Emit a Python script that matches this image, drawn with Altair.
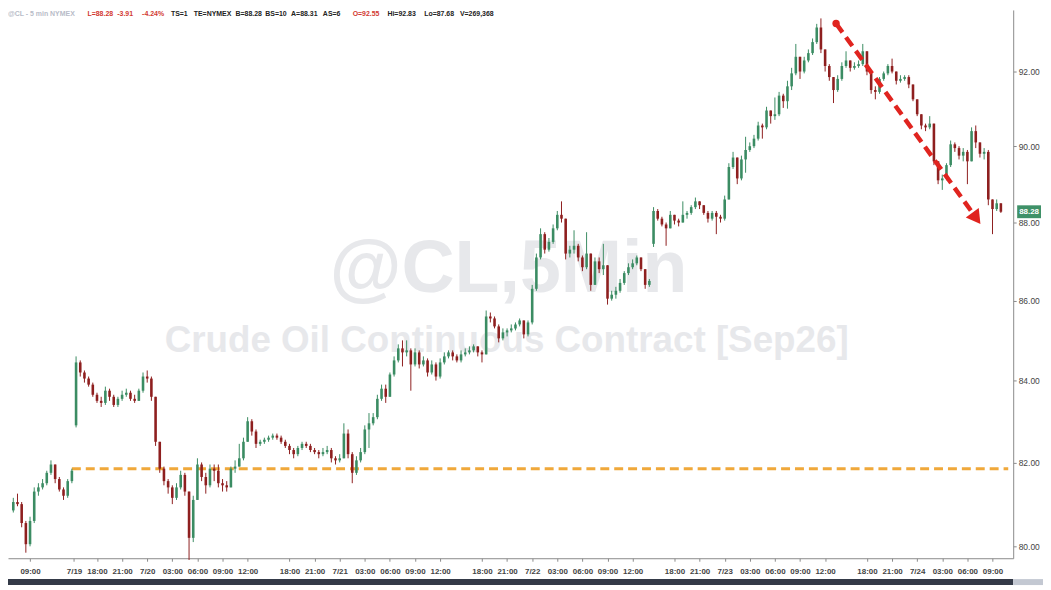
import altair as alt
import pandas as pd

# ---------------- data (30-minute candles) ----------------
closes = [
    81.05, 81.0, 80.55, 80.05, 80.6, 81.3, 81.4, 81.5, 81.75, 81.95,
    81.6, 81.35, 81.2, 81.55, 81.8, 84.45, 84.2, 84.05, 83.9, 83.65,
    83.5, 83.45, 83.75, 83.6, 83.4, 83.55, 83.65, 83.7, 83.55, 83.5,
    83.75, 84.1, 84.05, 83.6, 82.5, 81.85, 81.55, 81.4, 81.15, 81.4,
    81.7, 81.3, 80.2, 81.1, 81.95, 81.65, 81.45, 81.85, 81.8, 81.5,
    81.45, 81.4, 81.85, 81.9, 82.1, 82.5, 83.0, 82.75, 82.45, 82.5,
    82.55, 82.6, 82.65, 82.6, 82.5, 82.4, 82.3, 82.2, 82.35, 82.45,
    82.4, 82.3, 82.25, 82.2, 82.25, 82.3, 82.1, 82.05, 82.1, 82.7,
    82.2, 81.75, 82.05, 82.25, 82.8, 82.95, 83.1, 83.55, 83.8, 83.6,
    84.15, 84.5, 84.8, 84.7, 84.75, 84.4, 84.7, 84.4, 84.5, 84.2,
    84.4, 84.1, 84.45, 84.6, 84.7, 84.6, 84.5, 84.65, 84.7, 84.75,
    84.85, 84.7, 84.65, 85.6, 85.55, 85.35, 85.05, 85.2, 85.25, 85.3,
    85.4, 85.5, 85.15, 85.45, 86.3, 87.1, 87.7, 87.3, 87.5, 87.85,
    88.2, 88.1, 87.2, 87.3, 87.4, 87.1, 86.85, 87.2, 86.4, 87.0,
    86.8, 86.9, 86.05, 86.15, 86.25, 86.45, 86.7, 86.85, 86.95, 87.1,
    86.8, 86.4, 86.5, 88.3, 88.1, 87.95, 87.85, 88.2, 88.05, 88.0,
    88.2, 88.25, 88.4, 88.55, 88.45, 88.25, 88.1, 88.25, 88.15, 88.1,
    88.6, 89.45, 89.7, 89.15, 89.65, 89.9, 90.0, 90.2, 90.55, 90.5,
    90.95, 90.8, 90.85, 91.35, 91.2, 91.6, 91.95, 92.4, 92.0, 92.3,
    92.5, 92.8, 93.2, 92.6, 92.15, 91.85, 91.5, 91.8, 92.15, 92.3,
    92.1, 92.15, 92.2, 92.55, 92.0, 91.5, 91.45, 91.8, 91.95, 92.15,
    92.0, 91.75, 91.8, 91.85, 91.65, 91.25, 90.85, 90.55, 90.5, 90.6,
    89.6, 89.1, 89.15, 89.5, 90.05, 89.95, 89.75, 89.85, 89.6, 90.4,
    90.1, 89.8, 89.85, 88.6, 88.35, 88.5, 88.28,
]
highs = [
    81.15, 81.25, 81.05, 80.6, 80.7, 81.4, 81.5, 81.6, 81.8, 82.05,
    81.95, 81.65, 81.4, 81.6, 81.85, 84.6, 84.5, 84.25, 84.1, 83.95,
    83.7, 83.6, 83.85, 83.8, 83.65, 83.6, 83.75, 83.8, 83.75, 83.65,
    83.8, 84.2, 84.25, 84.1, 83.6, 82.5, 81.9, 81.6, 81.45, 81.5,
    81.8, 81.75, 81.3, 81.2, 82.1, 82.0, 81.75, 81.95, 81.95, 81.95,
    81.6, 81.55, 81.9, 82.05, 82.45, 82.6, 83.1, 83.05, 82.8, 82.55,
    82.6, 82.65, 82.7, 82.7, 82.65, 82.55, 82.45, 82.35, 82.4, 82.5,
    82.5, 82.45, 82.35, 82.3, 82.35, 82.4, 82.35, 82.15, 82.2, 82.95,
    82.8, 82.25, 82.15, 82.35, 82.9, 83.2, 83.2, 83.65, 83.9, 83.9,
    84.2, 84.6, 84.9, 85.0, 85.0, 84.8, 84.8, 84.75, 84.6, 84.55,
    84.5, 84.45, 84.55, 84.7, 84.75, 84.75, 84.65, 84.75, 84.8, 84.85,
    84.9, 84.85, 84.75, 85.75, 85.7, 85.6, 85.4, 85.3, 85.3, 85.4,
    85.45, 85.55, 85.5, 85.5, 86.4, 87.2, 87.85, 87.75, 87.6, 87.95,
    88.3, 88.55, 88.1, 87.4, 87.8, 87.45, 87.15, 87.75, 87.2, 87.1,
    87.1, 87.45, 86.9, 86.25, 86.35, 86.55, 86.75, 86.95, 87.05, 87.15,
    87.1, 86.8, 86.55, 88.4, 88.35, 88.15, 88.0, 88.3, 88.2, 88.1,
    88.55, 88.3, 88.45, 88.65, 88.55, 88.45, 88.3, 88.3, 88.3, 88.2,
    88.7, 89.55, 89.85, 89.7, 89.75, 90.25, 90.1, 90.3, 90.65, 90.6,
    91.05, 90.95, 91.3, 91.45, 91.4, 91.75, 92.1, 92.75, 92.4, 92.4,
    92.6, 92.9, 93.3, 93.45, 92.6, 92.2, 91.85, 91.9, 92.25, 92.55,
    92.3, 92.25, 92.3, 92.75, 92.55, 92.0, 91.6, 91.85, 92.0, 92.2,
    92.35, 92.0, 91.9, 91.9, 91.9, 91.65, 91.25, 90.85, 90.6, 90.8,
    90.6, 89.6, 89.25, 89.55, 90.15, 90.1, 90.0, 89.95, 89.9, 90.5,
    90.55, 90.1, 89.95, 89.9, 88.6, 88.6, 88.5,
]
lows = [
    80.8, 80.95, 80.45, 79.85, 80.0, 80.55, 81.2, 81.35, 81.45, 81.7,
    81.5, 81.3, 81.1, 81.15, 81.5, 82.85, 84.1, 83.95, 83.85, 83.6,
    83.45, 83.35, 83.4, 83.5, 83.35, 83.35, 83.5, 83.6, 83.5, 83.45,
    83.5, 83.7, 83.95, 83.5, 82.4, 81.75, 81.45, 81.25, 81.0, 81.1,
    81.35, 81.2, 79.68, 80.1, 81.1, 81.55, 81.25, 81.4, 81.55, 81.4,
    81.3, 81.3, 81.4, 81.75, 81.9, 82.05, 82.5, 82.65, 82.35, 82.4,
    82.45, 82.5, 82.55, 82.55, 82.45, 82.35, 82.2, 82.1, 82.15, 82.3,
    82.35, 82.25, 82.2, 82.1, 82.15, 82.2, 82.0, 81.95, 82.0, 82.1,
    82.1, 81.5, 81.7, 82.0, 82.2, 82.35, 82.9, 83.05, 83.5, 83.45,
    83.6, 84.1, 84.45, 84.35, 84.6, 83.75, 84.35, 84.3, 84.35, 84.1,
    84.15, 84.0, 84.05, 84.4, 84.55, 84.5, 84.45, 84.45, 84.6, 84.65,
    84.7, 84.6, 84.45, 84.65, 85.45, 85.3, 84.95, 85.0, 85.1, 85.2,
    85.25, 85.35, 85.05, 85.1, 85.4, 86.25, 87.05, 87.2, 87.25, 87.45,
    87.8, 88.0, 87.05, 87.1, 87.2, 87.0, 86.75, 86.8, 86.25, 86.4,
    86.7, 86.65, 85.9, 86.0, 86.05, 86.2, 86.4, 86.65, 86.8, 86.9,
    86.75, 86.3, 86.35, 87.37, 88.05, 87.9, 87.4, 87.85, 87.95, 87.9,
    88.0, 88.1, 88.2, 88.35, 88.35, 88.2, 88.0, 88.05, 87.7, 88.0,
    88.05, 88.6, 89.4, 89.0, 89.1, 89.3, 89.85, 89.95, 90.15, 90.2,
    90.45, 90.6, 90.7, 90.8, 91.02, 91.0, 91.5, 91.9, 91.8, 91.95,
    92.25, 92.45, 92.75, 92.5, 92.0, 91.75, 91.15, 91.45, 91.75, 92.1,
    92.0, 92.05, 92.1, 92.15, 91.9, 91.4, 91.25, 91.4, 91.75, 91.9,
    91.95, 91.65, 91.7, 91.75, 91.55, 91.2, 90.8, 90.45, 90.4, 90.45,
    89.5, 89.0, 88.85, 89.1, 89.45, 89.85, 89.65, 89.6, 89.0, 89.6,
    89.95, 89.7, 89.65, 88.45, 87.7, 88.3, 88.25,
]
first_open = 80.85
gap_bars = [15, 153]          # session gaps: open does not equal prior close
gap_opens = [82.90, 87.45]
bar_start_hour = -16.0        # trading hours relative to 7/20 00:00
bar_step_hour = 0.5

tick_hours = [-14.0, -8.75, -6.0, -3.0, 0.0, 3.0, 6.0, 9.0, 12.0,
              17.0, 20.0, 23.0, 26.0, 29.0, 32.0, 35.0,
              40.0, 43.0, 46.0, 49.0, 52.0, 55.0, 58.0,
              63.0, 66.0, 69.0, 72.0, 75.0, 78.0, 81.0,
              86.0, 89.0, 92.0, 95.0, 98.0, 101.0]
tick_labels = ["09:00", "7/19", "18:00", "21:00", "7/20", "03:00", "06:00", "09:00", "12:00",
               "18:00", "21:00", "7/21", "03:00", "06:00", "09:00", "12:00",
               "18:00", "21:00", "7/22", "03:00", "06:00", "09:00", "12:00",
               "18:00", "21:00", "7/23", "03:00", "06:00", "09:00", "12:00",
               "18:00", "21:00", "7/24", "03:00", "06:00", "09:00"]
price_ticks = [80, 82, 84, 86, 88, 90, 92]

support_hours = [-9.0, 102.88]
support_prices = [81.85, 81.85]

trend_hours = [82.31, 98.59]
trend_prices = [93.31, 88.26]
arrow_head_hours = [99.07]
arrow_head_prices = [88.11]

last_price = [88.28]

header_parts = [
    ("@CL - 5 min  NYMEX", "#b8bcc8"), ("L=88.28", "#d23a32"), ("-3.91", "#d23a32"),
    ("-4.24%", "#d23a32"), ("TS=1", "#222222"), ("TE=NYMEX", "#222222"),
    ("B=88.28", "#222222"), ("BS=10", "#222222"), ("A=88.31", "#222222"),
    ("AS=6", "#222222"), ("O=92.55", "#d23a32"), ("Hi=92.83", "#222222"),
    ("Lo=87.68", "#222222"), ("V=269,368", "#222222"),
]
header_x = [0, 80, 110, 135, 164, 187, 229, 259, 285, 317, 347, 382, 419, 455]

# ---------------- build table ----------------
n = len(closes)
opens = [first_open] + closes[:-1]
for b, o in zip(gap_bars, gap_opens):
    opens[b] = o
df = pd.DataFrame({
    "t": [bar_start_hour + bar_step_hour * i for i in range(n)],
    "open": opens, "high": highs, "low": lows, "close": closes,
})
df["dir"] = ["up" if c >= o else "down" for o, c in zip(opens, closes)]

# ---------------- layout ----------------
W, H = 1012, 552
GREEN, RED = "#3b8c63", "#8e1f1f"
FONT = "Liberation Sans"

x_scale = alt.Scale(domain=[-16.04, 102.88], nice=False, zero=False)
y_scale = alt.Scale(type="log", domain=[79.72, 93.683], nice=False, zero=False)

vals_js = "[" + ",".join(repr(v) for v in tick_hours) + "]"
labs_js = "[" + ",".join("'" + s + "'" for s in tick_labels) + "]"
x_axis = alt.Axis(values=tick_hours, labelExpr=f"{labs_js}[indexof({vals_js}, datum.value)]",
                  title=None, grid=False, domainColor="#8a8a8a", tickColor="#8a8a8a",
                  tickSize=3, labelFontSize=8, labelFont=FONT, labelFontWeight="bold",
                  labelColor="#444444", labelPadding=6, labelOverlap=False, labelFlush=False)
y_axis = alt.Axis(orient="right", values=price_ticks, format=".2f", title=None, grid=False,
                  domainColor="#8a8a8a", tickColor="#8a8a8a", tickSize=3, labelFontSize=8.5,
                  labelFont=FONT, labelColor="#444444", labelPadding=2)

X = lambda f: alt.X(f, scale=x_scale, axis=x_axis, title=None)
Y = lambda f: alt.Y(f, scale=y_scale, axis=y_axis, title=None)
col = alt.Color("dir:N", scale=alt.Scale(domain=["up", "down"], range=[GREEN, RED]), legend=None)

wm1 = alt.Chart(pd.DataFrame({"s": ["@CL,5Min"]})).mark_text(
    font=FONT, fontSize=74, fontWeight="bold", color="#e7e8eb", align="center", baseline="alphabetic"
).encode(x=alt.value(504), y=alt.value(284), text="s:N")
wm2 = alt.Chart(pd.DataFrame({"s": ["Crude Oil Continuous Contract [Sep26]"]})).mark_text(
    font=FONT, fontSize=37, fontWeight="bold", color="#e7e8eb", align="center", baseline="alphabetic"
).encode(x=alt.value(502), y=alt.value(344), text="s:N")

base = alt.Chart(df)
wicks = base.mark_rule(strokeWidth=1).encode(x=X("t:Q"), y=Y("low:Q"), y2="high:Q", color=col)
bodies = base.mark_bar(size=2.6).encode(x=X("t:Q"), y=Y("open:Q"), y2="close:Q", color=col)

sup_df = pd.DataFrame({"t": support_hours, "p": support_prices})
support = alt.Chart(sup_df).mark_line(color="#f0a83a", strokeWidth=3, strokeDash=[9, 5]).encode(
    x=X("t:Q"), y=Y("p:Q"))

tr_df = pd.DataFrame({"t": trend_hours, "p": trend_prices})
trend = alt.Chart(tr_df).mark_line(color="#e0241f", strokeWidth=4.5, strokeDash=[11, 6]).encode(
    x=X("t:Q"), y=Y("p:Q"))
dot = alt.Chart(tr_df.iloc[:1]).mark_point(filled=True, size=55, color="#e0241f", opacity=1).encode(
    x=X("t:Q"), y=Y("p:Q"))
head = alt.Chart(pd.DataFrame({"t": arrow_head_hours, "p": arrow_head_prices})).mark_point(
    shape="triangle-up", angle=144, size=260, filled=True, color="#e0241f", opacity=1
).encode(x=X("t:Q"), y=Y("p:Q"))

lp_df = pd.DataFrame({"p": last_price, "s": [f"{v:.2f}" for v in last_price]})
lp_box = alt.Chart(lp_df).mark_point(
    shape="M-1,-0.54L1,-0.54L1,0.54L-1,0.54Z", size=576, filled=True, color="#3f9168", opacity=1
).encode(x=alt.value(W + 16), y=Y("p:Q"))
lp_txt = alt.Chart(lp_df).mark_text(font=FONT, fontSize=8, fontWeight="bold", color="white").encode(
    x=alt.value(W + 16), y=Y("p:Q"), text="s:N")

# application scroll strip under the time axis
strip_dark = alt.Chart(pd.DataFrame({"k": [0]})).mark_rect(color="#343a48").encode(
    x=alt.value(0), x2=alt.value(W), y=alt.value(H + 21), y2=alt.value(H + 27))
strip_light = alt.Chart(pd.DataFrame({"k": [0]})).mark_rect(color="#c3c8d2").encode(
    x=alt.value(W), x2=alt.value(W + 30), y=alt.value(H + 21), y2=alt.value(H + 27))

headers = []
for (txt, c), hx in zip(header_parts, header_x):
    headers.append(
        alt.Chart(pd.DataFrame({"s": [txt]})).mark_text(
            font=FONT, fontSize=7, fontWeight="bold", color=c, align="left", baseline="middle"
        ).encode(x=alt.value(hx), y=alt.value(4), text="s:N")
    )

chart = alt.layer(wm1, wm2, support, wicks, bodies, trend, dot, head, lp_box, lp_txt,
                  strip_dark, strip_light, *headers).properties(
    width=W, height=H, padding=0, background="white"
).configure_view(strokeWidth=0)

chart.save("out.html", embed_options={"renderer": "svg", "actions": False})
